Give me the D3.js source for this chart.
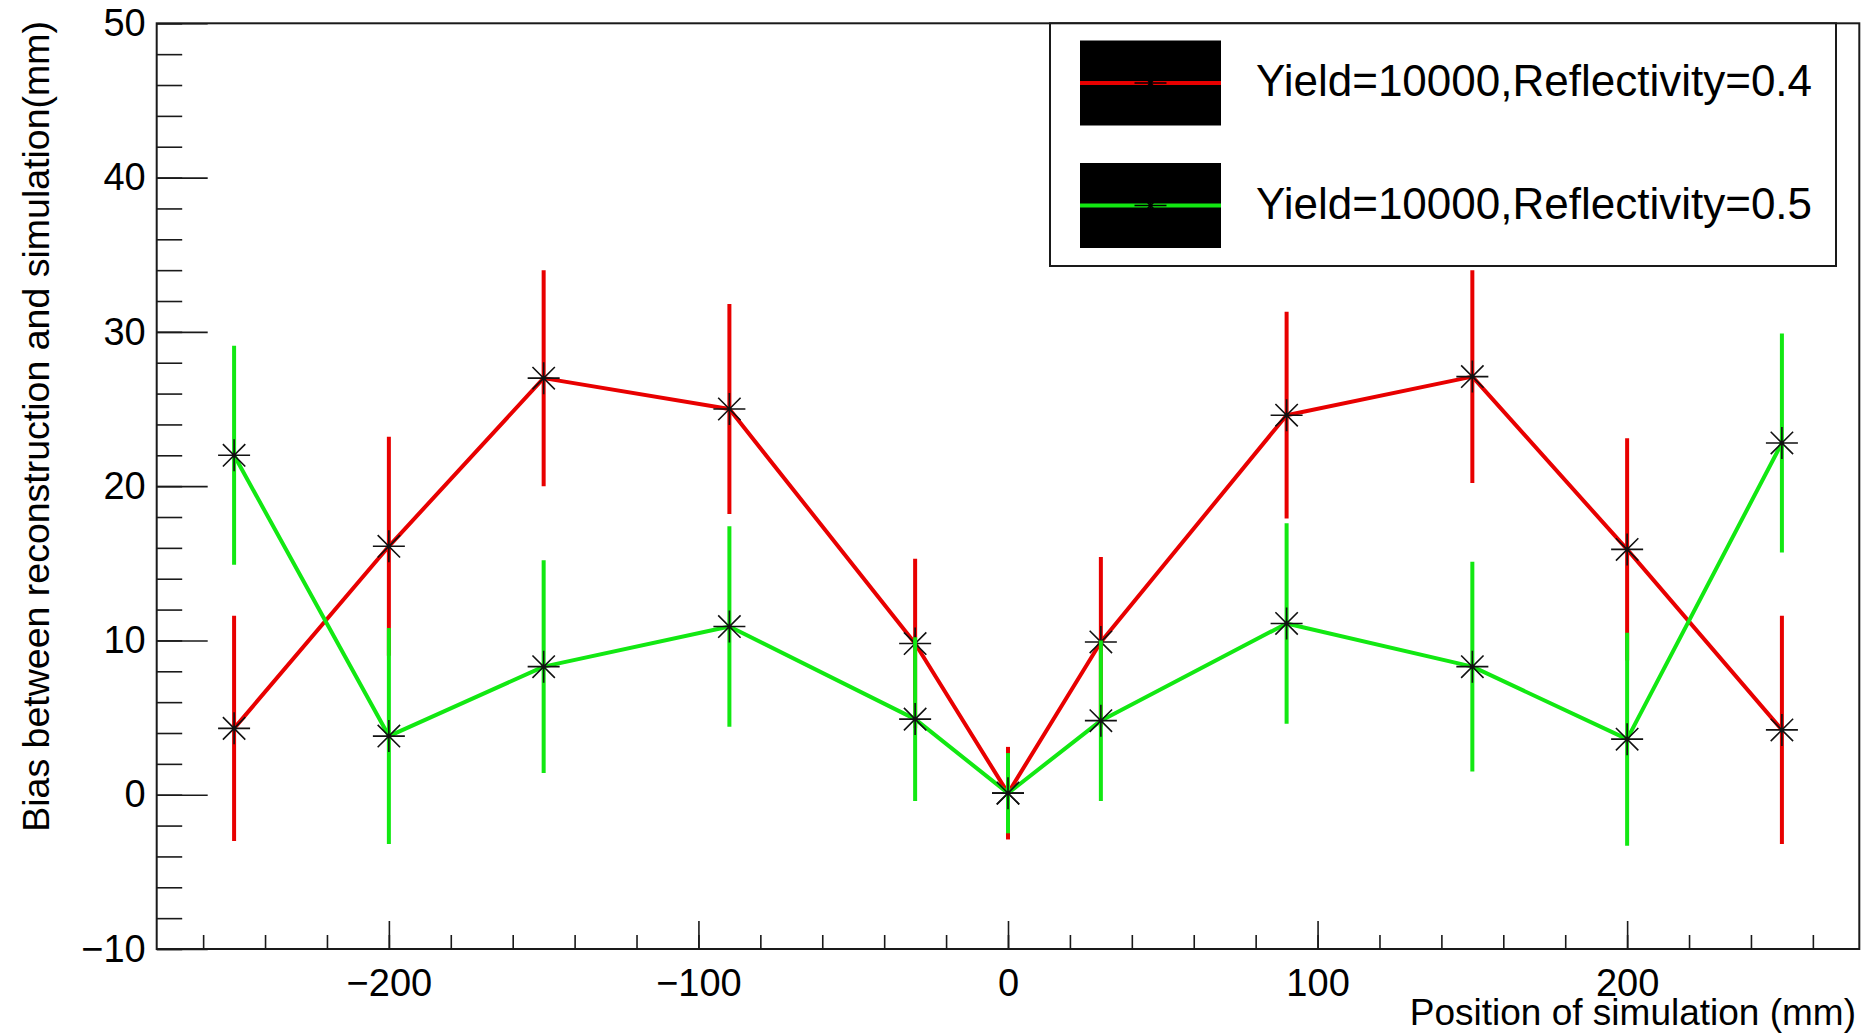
<!DOCTYPE html>
<html>
<head>
<meta charset="utf-8">
<script src="https://cdnjs.cloudflare.com/ajax/libs/d3/7.8.5/d3.min.js"></script>
<style>
  html, body { margin: 0; padding: 0; background: #fff; }
  #chart svg { display: block; }
  text { font-family: "Liberation Sans", Arial, Helvetica, sans-serif; fill: #000; }
</style>
</head>
<body>
<div id="chart"></div>
<script>
// positions of simulation (mm)
let positions = [-250, -200, -150, -90, -30, 0, 30, 90, 150, 200, 250];

// Yield=10000, Reflectivity=0.4
let biasRefl04 = [4.3, 16.1, 27.0, 25.0, 9.8, 0.1, 9.9, 24.6, 27.1, 15.9, 4.2];
let errRefl04  = [7.3, 7.1, 7.0, 6.8, 5.5, 3.0, 5.5, 6.7, 6.9, 7.2, 7.4];

// Yield=10000, Reflectivity=0.5
let biasRefl05 = [22.0, 3.8, 8.3, 10.9, 4.9, 0.1, 4.8, 11.1, 8.3, 3.6, 22.8];
let errRefl05  = [7.1, 7.0, 6.9, 6.5, 5.3, 2.6, 5.2, 6.5, 6.8, 6.9, 7.1];

let seriesNames = ["Yield=10000,Reflectivity=0.4", "Yield=10000,Reflectivity=0.5"];
let seriesColors = ["#e80000", "#12e812"];

let xMajorTicks = [-200, -100, 0, 100, 200];
let yMajorTicks = [-10, 0, 10, 20, 30, 40, 50];

let xTitle = "Position of simulation (mm)";
let yTitle = "Bias between reconstruction and simulation(mm)";

let dim = {
    'width': 1867,
    'height': 1033
};
let frame = { left: 156.7, right: 1859.3, top: 23.3, bottom: 949 };

let svg = d3.select('#chart').append('svg')
    .attr('width', dim.width)
    .attr('height', dim.height);

let scaleX = d3.scaleLinear()
    .domain([-275, 275])
    .range([frame.left, frame.right]);

let scaleY = d3.scaleLinear()
    .domain([-10, 50])
    .range([frame.bottom, frame.top]);

let series = seriesNames.map((name, i) => ({
    name: name,
    color: seriesColors[i],
    points: positions.map((x, j) => ({
        x: x,
        y: i === 0 ? biasRefl04[j] : biasRefl05[j],
        e: i === 0 ? errRefl04[j] : errRefl05[j]
    }))
}));

// ---- axes (ticks point inward, like the ROOT frame) ----
let fmt = d => d3.format("d")(d);

// x minor
svg.append('g')
    .attr('transform', `translate(0,${frame.bottom})`)
    .call(d3.axisBottom(scaleX).tickValues(d3.range(-260, 261, 20)).tickSize(-14).tickFormat(''))
    .call(g => g.select('.domain').remove());
// x major
svg.append('g')
    .attr('class', 'axisX')
    .attr('transform', `translate(0,${frame.bottom})`)
    .call(d3.axisBottom(scaleX).tickValues(xMajorTicks).tickSize(-28).tickPadding(20).tickFormat(fmt))
    .call(g => g.select('.domain').remove());

// y minor
svg.append('g')
    .attr('transform', `translate(${frame.left},0)`)
    .call(d3.axisLeft(scaleY).tickValues(d3.range(-10, 50.1, 2)).tickSize(-25.5).tickFormat(''))
    .call(g => g.select('.domain').remove());
// y major
svg.append('g')
    .attr('class', 'axisY')
    .attr('transform', `translate(${frame.left},0)`)
    .call(d3.axisLeft(scaleY).tickValues(yMajorTicks).tickSize(-51).tickPadding(11).tickFormat(fmt))
    .call(g => g.select('.domain').remove());

svg.selectAll('.tick line').attr('stroke', '#1a1a1a').attr('stroke-width', 1.6);
svg.selectAll('.tick text')
    .attr('font-size', 38)
    .attr('font-family', '"Liberation Sans", Arial, sans-serif')
    .attr('fill', '#000');

// frame
svg.append('rect')
    .attr('x', frame.left)
    .attr('y', frame.top)
    .attr('width', frame.right - frame.left)
    .attr('height', frame.bottom - frame.top)
    .attr('fill', 'none')
    .attr('stroke', '#1a1a1a')
    .attr('stroke-width', 2);

// axis titles
svg.append('text')
    .attr('x', 1856)
    .attr('y', 1025)
    .attr('text-anchor', 'end')
    .attr('font-size', 37)
    .text(xTitle);

svg.append('text')
    .attr('transform', 'translate(49,21) rotate(-90)')
    .attr('text-anchor', 'end')
    .attr('font-size', 37.5)
    .text(yTitle);

// ---- graphs ----
function starPath(cx, cy, r) {
    let d = r * 0.7;
    return `M${cx - r},${cy}L${cx + r},${cy}M${cx},${cy - r}L${cx},${cy + r}` +
           `M${cx - d},${cy - d}L${cx + d},${cy + d}M${cx - d},${cy + d}L${cx + d},${cy - d}`;
}

let line = d3.line()
    .x(d => scaleX(d.x))
    .y(d => scaleY(d.y));

series.forEach(s => {
    let g = svg.append('g');

    g.append('path')
        .datum(s.points)
        .attr('d', line)
        .attr('fill', 'none')
        .attr('stroke', s.color)
        .attr('stroke-width', 4)
        .attr('stroke-linejoin', 'round');

    g.selectAll('line.err')
        .data(s.points)
        .join('line')
        .attr('class', 'err')
        .attr('x1', d => scaleX(d.x))
        .attr('x2', d => scaleX(d.x))
        .attr('y1', d => scaleY(d.y - d.e))
        .attr('y2', d => scaleY(d.y + d.e))
        .attr('stroke', s.color)
        .attr('stroke-width', 4);

    g.selectAll('path.star')
        .data(s.points)
        .join('path')
        .attr('class', 'star')
        .attr('d', d => starPath(scaleX(d.x), scaleY(d.y), 16))
        .attr('fill', 'none')
        .attr('stroke', '#111')
        .attr('stroke-width', 1.6);
});

// ---- legend ----
let legend = svg.append('g');
legend.append('rect')
    .attr('x', 1050)
    .attr('y', 23.3)
    .attr('width', 1836 - 1050)
    .attr('height', 266 - 23.3)
    .attr('fill', '#fff')
    .attr('stroke', '#1a1a1a')
    .attr('stroke-width', 2);

let rowY = d3.scalePoint()
    .domain(seriesNames)
    .range([83, 205.5]);

series.forEach(s => {
    let cy = rowY(s.name);
    legend.append('rect')
        .attr('x', 1080)
        .attr('y', cy - 42.5)
        .attr('width', 141)
        .attr('height', 85)
        .attr('fill', '#000');
    legend.append('line')
        .attr('x1', 1080).attr('x2', 1221)
        .attr('y1', cy).attr('y2', cy)
        .attr('stroke', s.color)
        .attr('stroke-width', 4);
    legend.append('path')
        .attr('d', starPath(1150.5, cy, 16))
        .attr('fill', 'none')
        .attr('stroke', '#000')
        .attr('stroke-width', 1.6);
    legend.append('text')
        .attr('x', 1256)
        .attr('y', cy + 13)
        .attr('font-size', 44)
        .text(s.name);
});
</script>
</body>
</html>
